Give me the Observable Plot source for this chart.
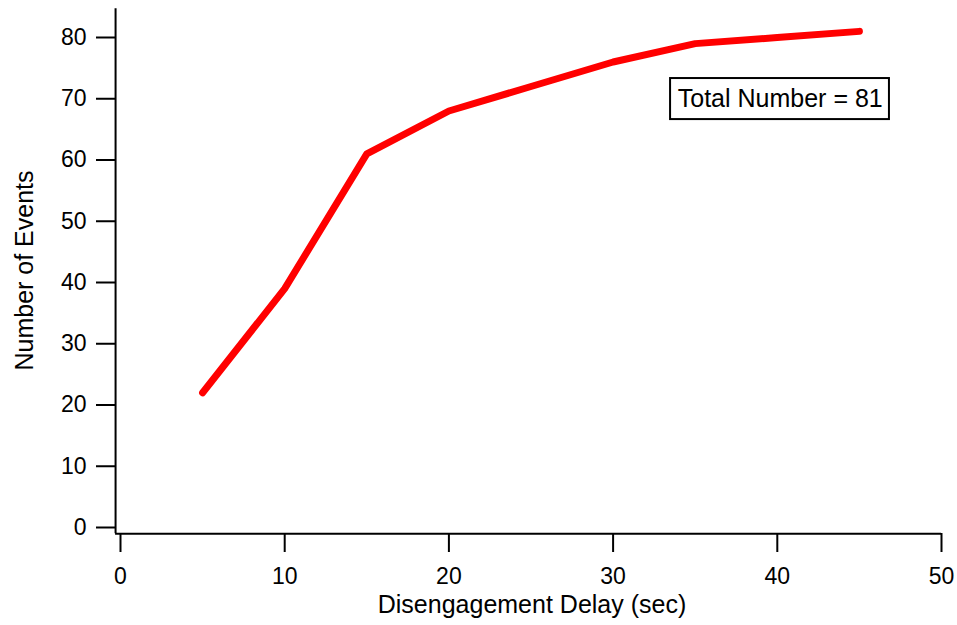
<!DOCTYPE html>
<html><head><meta charset="utf-8">
<script src="https://cdn.jsdelivr.net/npm/d3@7"></script>
<script src="https://cdn.jsdelivr.net/npm/@observablehq/plot@0.6"></script>
<style>body{margin:0;background:#fff} svg{display:block}</style>
</head><body><div id="chart"></div>
<script>
// data
const delays = [5, 10, 15, 20, 25, 30, 35, 40, 45];
const events = [22, 39, 61, 68, 72, 76, 79, 80, 81];
const xTicks = [0, 10, 20, 30, 40, 50];
const yTicks = [0, 10, 20, 30, 40, 50, 60, 70, 80];
const xTitle = "Disengagement Delay (sec)";
const yTitle = "Number of Events";
const noteText = "Total Number = 81";
// annotation placement (data units)
const noteBox = {x1: 33.5, x2: 46.83, y1: 66.6, y2: 73.3};
const noteAt = {x: 40.18, y: 69.9};
const axisExtentX = [-0.3, 50];
const axisExtentY = [-1, 84.7];

const data = delays.map((d, i) => ({x: d, y: events[i]}));
const font = "'Liberation Sans', Arial, Helvetica, sans-serif";

const chart = Plot.plot({
  width: 957, height: 625,
  marginLeft: 120, marginRight: 16, marginTop: 37, marginBottom: 98,
  style: {fontFamily: font, fontSize: "23px", background: "#fff", color: "#000", overflow: "visible"},
  x: {domain: [0, 50]},
  y: {domain: [0, 80]},
  marks: [
    Plot.ruleY([axisExtentY[0]], {x1: axisExtentX[0], x2: axisExtentX[1], stroke: "#000", strokeWidth: 2}),
    Plot.ruleX([axisExtentX[0]], {y1: axisExtentY[0], y2: axisExtentY[1], stroke: "#000", strokeWidth: 2}),
    Plot.axisX(xTicks, {anchor: "bottom", tickSize: 19, tickPadding: 15, dy: 6, strokeWidth: 2, label: null, fontSize: 23}),
    Plot.axisY(yTicks, {anchor: "left", tickSize: 19, tickPadding: 10, dx: -5, strokeWidth: 2, label: null, fontSize: 23}),
    Plot.line(data, {x: "x", y: "y", stroke: "#ff0000", strokeWidth: 7, strokeLinecap: "round", strokeLinejoin: "round"}),
    Plot.rect([noteBox], {x1: "x1", x2: "x2", y1: "y1", y2: "y2", fill: "#fff", stroke: "#000", strokeWidth: 2}),
    Plot.text([noteAt], {x: "x", y: "y", text: () => noteText, fontSize: 25, fill: "#000"}),
    Plot.text([xTitle], {frameAnchor: "bottom", text: d => d, textAnchor: "middle", dx: 1, dy: 85, fontSize: 25, fill: "#000"}),
    Plot.text([yTitle], {frameAnchor: "left", text: d => d, textAnchor: "middle", rotate: -90, dx: -96, dy: -12, fontSize: 25, fill: "#000"})
  ]
});
document.getElementById("chart").appendChild(chart);
</script>
</body></html>
